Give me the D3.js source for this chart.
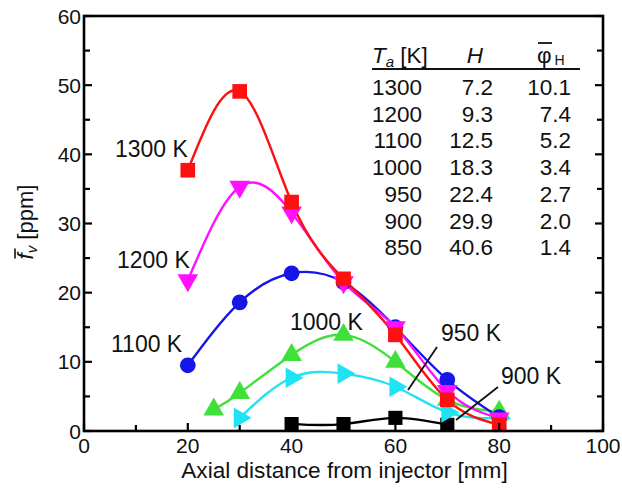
<!DOCTYPE html>
<html>
<head>
<meta charset="utf-8">
<script src="https://cdn.jsdelivr.net/npm/d3@7"></script>
<style>
  html, body { margin: 0; padding: 0; background: #fff; }
  svg { display: block; font-family: "Liberation Sans", Arial, sans-serif; }
</style>
</head>
<body>
<svg id="chart" width="622" height="490"></svg>
<script>
// ---------------- data ----------------
const xTicks = [0, 20, 40, 60, 80, 100];
const yTicks = [0, 10, 20, 30, 40, 50, 60];

const x1300 = [20, 30, 40, 50, 60, 70, 80];
const y1300 = [37.7, 49.1, 33.1, 22.0, 13.9, 4.5, 0.9];

const x1200 = [20, 30, 40, 50, 60, 70, 80];
const y1200 = [21.8, 35.3, 31.6, 21.5, 15.0, 5.8, 1.8];

const x1100 = [20, 30, 40, 50, 60, 70, 80];
const y1100 = [9.5, 18.6, 22.8, 21.5, 15.0, 7.4, 2.0];

const x1000 = [25, 30, 40, 50, 60, 70, 80];
const y1000 = [3.1, 5.5, 11.0, 13.9, 10.0, 4.5, 2.8];

const x950 = [30, 40, 50, 60, 70, 80];
const y950 = [1.9, 7.7, 8.3, 6.4, 2.7, 1.8];

const x900 = [40, 50, 60, 70];
const y900 = [1.0, 1.0, 1.9, 0.9];

const seriesNames = ["900 K", "950 K", "1000 K", "1100 K", "1200 K", "1300 K"];

const tableTa  = ["1300", "1200", "1100", "1000", "950", "900", "850"];
const tableH   = ["7.2", "9.3", "12.5", "18.3", "22.4", "29.9", "40.6"];
const tablePhi = ["10.1", "7.4", "5.2", "3.4", "2.7", "2.0", "1.4"];

// ---------------- chart ----------------
const svg = d3.select("#chart");
const x = d3.scaleLinear().domain([0, 100]).range([84, 603]);
const y = d3.scaleLinear().domain([0, 60]).range([431, 16]);
const ink = "#111";

const series = [
  {name: "900 K",  xs: x900,  ys: y900,  color: "#000000", sym: d3.symbolSquare,   rot: 0,   size: 200},
  {name: "950 K",  xs: x950,  ys: y950,  color: "#1fe3f2", sym: d3.symbolTriangle, rot: 90,  size: 185},
  {name: "1000 K", xs: x1000, ys: y1000, color: "#3fe03a", sym: d3.symbolTriangle, rot: 0,   size: 185},
  {name: "1100 K", xs: x1100, ys: y1100, color: "#1616e6", sym: d3.symbolCircle,   rot: 0,   size: 195},
  {name: "1200 K", xs: x1200, ys: y1200, color: "#ff10ff", sym: d3.symbolTriangle, rot: 180, size: 185},
  {name: "1300 K", xs: x1300, ys: y1300, color: "#ff1010", sym: d3.symbolSquare,   rot: 0,   size: 215}
];

const line = d3.line()
  .x(d => x(d[0])).y(d => y(d[1]))
  .curve(d3.curveNatural);

const gLines = svg.append("g");
series.forEach(s => {
  const pts = s.xs.map((v, i) => [v, s.ys[i]]);
  gLines.append("path")
    .attr("d", line(pts))
    .attr("fill", "none")
    .attr("stroke", s.color)
    .attr("stroke-width", 2.4);
});

const gMarks = svg.append("g");
series.forEach(s => {
  const sym = d3.symbol().type(s.sym).size(s.size);
  s.xs.forEach((v, i) => {
    gMarks.append("path")
      .attr("d", sym())
      .attr("fill", s.color)
      .attr("transform", `translate(${x(v)},${y(s.ys[i])}) rotate(${s.rot})`);
  });
});

// ---------------- axes / frame ----------------
const axG = svg.append("g");
axG.append("rect")
  .attr("x", x(0)).attr("y", y(60))
  .attr("width", x(100) - x(0)).attr("height", y(0) - y(60))
  .attr("fill", "none").attr("stroke", "#000").attr("stroke-width", 2.6);

d3.range(0, 101, 10).forEach(v => {
  const major = v % 20 === 0;
  axG.append("line")
    .attr("x1", x(v)).attr("x2", x(v))
    .attr("y1", y(0)).attr("y2", y(0) - (major ? 8 : 6))
    .attr("stroke", "#000").attr("stroke-width", 2.2);
});
d3.range(0, 61, 5).forEach(v => {
  const major = v % 10 === 0;
  axG.append("line")
    .attr("x1", x(0)).attr("x2", x(0) + (major ? 8 : 6))
    .attr("y1", y(v)).attr("y2", y(v))
    .attr("stroke", "#000").attr("stroke-width", 2.2);
  axG.append("line")
    .attr("x1", x(100)).attr("x2", x(100) - (major ? 8 : 6))
    .attr("y1", y(v)).attr("y2", y(v))
    .attr("stroke", "#000").attr("stroke-width", 2.2);
});

axG.selectAll("text.xt").data(xTicks).join("text")
  .attr("class", "xt")
  .attr("x", d => x(d)).attr("y", 453)
  .attr("text-anchor", "middle")
  .attr("font-size", 21)
  .attr("fill", ink)
  .text(d => d);
axG.selectAll("text.yt").data(yTicks).join("text")
  .attr("class", "yt")
  .attr("x", 81).attr("y", d => y(d) + 7.5)
  .attr("text-anchor", "end")
  .attr("font-size", 21)
  .attr("fill", ink)
  .text(d => d);

svg.append("text")
  .attr("x", (x(0) + x(100)) / 2 + 1).attr("y", 478)
  .attr("text-anchor", "middle")
  .attr("font-size", 22.6)
  .attr("fill", ink)
  .text("Axial distance from injector [mm]");

const yt = svg.append("g").attr("transform", "translate(33,222) rotate(-90)");
const ytText = yt.append("text")
  .attr("x", 0).attr("y", 0)
  .attr("text-anchor", "middle")
  .attr("font-size", 22)
  .attr("fill", ink);
ytText.append("tspan").attr("font-style", "italic").text("f");
ytText.append("tspan").attr("font-style", "italic").attr("font-size", 15).attr("dy", 4).text("v");
ytText.append("tspan").attr("dy", -4).text(" [ppm]");
{
  const bb = ytText.node().getBBox();
  const fx = bb.x + 1;
  yt.append("line")
    .attr("x1", fx).attr("x2", fx + 10)
    .attr("y1", -18).attr("y2", -18)
    .attr("stroke", ink).attr("stroke-width", 1.6);
}

// ---------------- curve labels ----------------
const labels = [
  {t: "1300 K", x: 115, y: 157},
  {t: "1200 K", x: 117, y: 268},
  {t: "1100 K", x: 111, y: 352},
  {t: "1000 K", x: 290, y: 330},
  {t: "950 K",  x: 441, y: 341},
  {t: "900 K",  x: 501, y: 384}
];
svg.append("g").selectAll("text").data(labels).join("text")
  .attr("x", d => d.x).attr("y", d => d.y)
  .attr("font-size", 23)
  .attr("fill", ink)
  .text(d => d.t);

const leaders = [
  [437, 347, 408, 390],
  [498, 387, 456, 420]
];
svg.append("g").selectAll("line").data(leaders).join("line")
  .attr("x1", d => d[0]).attr("y1", d => d[1])
  .attr("x2", d => d[2]).attr("y2", d => d[3])
  .attr("stroke", ink).attr("stroke-width", 1.8);

// ---------------- table ----------------
const tg = svg.append("g").attr("font-size", 22.5).attr("fill", ink);
const h1 = tg.append("text").attr("x", 372).attr("y", 63);
h1.append("tspan").attr("font-style", "italic").text("T");
h1.append("tspan").attr("font-style", "italic").attr("font-size", 15).attr("dy", 4).text("a");
h1.append("tspan").attr("dy", -4).text(" [K]");
tg.append("text").attr("x", 483).attr("y", 63).attr("text-anchor", "end")
  .attr("font-style", "italic").text("H");
const h3 = tg.append("text").attr("x", 537).attr("y", 63);
h3.append("tspan").text("φ");
h3.append("tspan").attr("font-size", 14).attr("dx", 3).attr("dy", 2).text("H");
tg.append("line").attr("x1", 538).attr("x2", 552).attr("y1", 43).attr("y2", 43)
  .attr("stroke", ink).attr("stroke-width", 1.8);
tg.append("line").attr("x1", 372).attr("x2", 580).attr("y1", 69).attr("y2", 69)
  .attr("stroke", ink).attr("stroke-width", 2);

const rowY = i => 95 + i * 26.7;
tg.selectAll("text.c1").data(tableTa).join("text").attr("class", "c1")
  .attr("x", 422).attr("y", (d, i) => rowY(i)).attr("text-anchor", "end").text(d => d);
tg.selectAll("text.c2").data(tableH).join("text").attr("class", "c2")
  .attr("x", 493).attr("y", (d, i) => rowY(i)).attr("text-anchor", "end").text(d => d);
tg.selectAll("text.c3").data(tablePhi).join("text").attr("class", "c3")
  .attr("x", 571).attr("y", (d, i) => rowY(i)).attr("text-anchor", "end").text(d => d);
</script>
</body>
</html>
